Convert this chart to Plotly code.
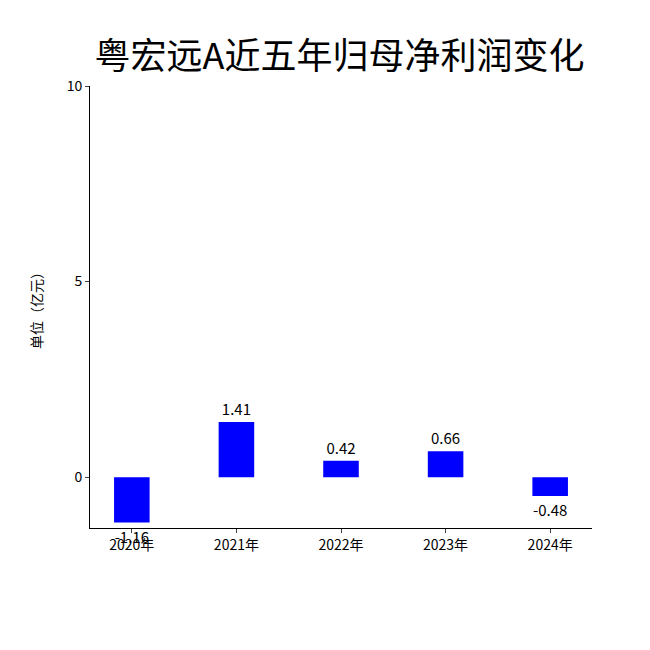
import plotly.graph_objects as go

years = ["2020年", "2021年", "2022年", "2023年", "2024年"]
profits = [-1.16, 1.41, 0.42, 0.66, -0.48]
labels = ["-1.16", "1.41", "0.42", "0.66", "-0.48"]
yticks = [0, 5, 10]

font = "Noto Sans CJK SC"
fig = go.Figure(go.Bar(
    x=list(range(len(years))), y=profits, text=labels, textposition="outside",
    textfont=dict(size=15, color="black", family=font), cliponaxis=False,
    marker=dict(color="#0000ff", line=dict(width=0)), width=0.34,
))
fig.update_layout(
    width=650, height=650, plot_bgcolor="white", paper_bgcolor="white",
    margin=dict(l=82, r=66, t=78, b=130), showlegend=False,
    font=dict(family=font, color="black", size=14),
    title=dict(text="粤宏远A近五年归母净利润变化", x=0.51, xanchor="center",
               y=0.925, yanchor="middle", font=dict(size=36, family=font)),
)
fig.update_xaxes(range=[-0.4, 4.4], tickvals=list(range(len(years))), ticktext=years,
                 showline=True, linecolor="black", ticks="outside", ticklen=4,
                 showgrid=False, zeroline=False, tickfont=dict(size=14), automargin=False)
fig.update_yaxes(range=[-1.3, 10], tickvals=yticks, showline=True, linecolor="black",
                 ticks="outside", ticklen=4, showgrid=False, zeroline=False,
                 title=dict(text="单位（亿元）", font=dict(size=14), standoff=20),
                 tickfont=dict(size=14), automargin=False)
fig.write_html("out.html")
